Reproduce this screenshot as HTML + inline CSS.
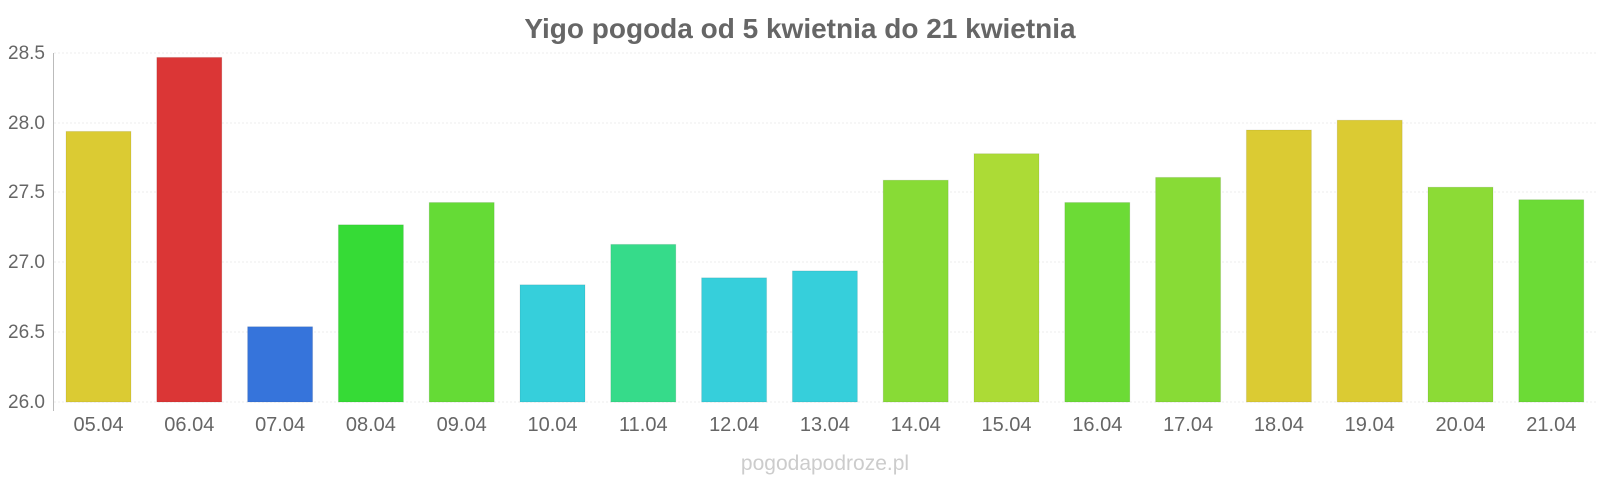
<!DOCTYPE html><html><head><style>body{margin:0;background:#fff}svg{display:block}text{font-family:"Liberation Sans",sans-serif}</style></head><body>
<svg width="1600" height="480" xmlns="http://www.w3.org/2000/svg">
<text x="800" y="38" text-anchor="middle" font-size="28" font-weight="bold" fill="#666">Yigo pogoda od 5 kwietnia do 21 kwietnia</text>
<g stroke="#eee" stroke-dasharray="2,2"><line x1="54" x2="1597" y1="53" y2="53"/><line x1="54" x2="1597" y1="123" y2="123"/><line x1="54" x2="1597" y1="192" y2="192"/><line x1="54" x2="1597" y1="262" y2="262"/><line x1="54" x2="1597" y1="332" y2="332"/><line x1="54" x2="1597" y1="402" y2="402"/></g>
<line x1="53.5" x2="53.5" y1="53" y2="411" stroke="#bbb"/>
<g font-size="19" fill="#666" text-anchor="end"><text x="45" y="59">28.5</text><text x="45" y="129">28.0</text><text x="45" y="198">27.5</text><text x="45" y="268">27.0</text><text x="45" y="338">26.5</text><text x="45" y="408">26.0</text></g>
<g stroke="rgba(0,0,0,0.08)">
<rect x="66" y="131.4" width="65" height="270.6" fill="#dbcb33"/>
<rect x="156.8" y="57.4" width="65" height="344.6" fill="#db3636"/>
<rect x="247.6" y="326.7" width="65" height="75.3" fill="#3674db"/>
<rect x="338.4" y="224.8" width="65" height="177.2" fill="#36db36"/>
<rect x="429.2" y="202.5" width="65" height="199.5" fill="#65db36"/>
<rect x="520" y="284.8" width="65" height="117.2" fill="#36cfdb"/>
<rect x="610.8" y="244.4" width="65" height="157.6" fill="#36db8a"/>
<rect x="701.6" y="277.8" width="65" height="124.2" fill="#36cfdb"/>
<rect x="792.4" y="270.9" width="65" height="131.1" fill="#36cfdb"/>
<rect x="883.2" y="180.2" width="65" height="221.8" fill="#88db36"/>
<rect x="974" y="153.7" width="65" height="248.3" fill="#acdb36"/>
<rect x="1064.8" y="202.5" width="65" height="199.5" fill="#6cdb36"/>
<rect x="1155.6" y="177.4" width="65" height="224.6" fill="#88db36"/>
<rect x="1246.4" y="130" width="65" height="272" fill="#dbcb33"/>
<rect x="1337.2" y="120.2" width="65" height="281.8" fill="#dbcb33"/>
<rect x="1428" y="187.2" width="65" height="214.8" fill="#8cdb36"/>
<rect x="1518.8" y="199.7" width="65" height="202.3" fill="#6cdb36"/>
</g>
<g font-size="20" fill="#666" text-anchor="middle">
<text x="98.5" y="431">05.04</text><text x="189.3" y="431">06.04</text><text x="280.1" y="431">07.04</text><text x="370.9" y="431">08.04</text><text x="461.7" y="431">09.04</text><text x="552.5" y="431">10.04</text><text x="643.3" y="431">11.04</text><text x="734.1" y="431">12.04</text><text x="824.9" y="431">13.04</text><text x="915.7" y="431">14.04</text><text x="1006.5" y="431">15.04</text><text x="1097.3" y="431">16.04</text><text x="1188.1" y="431">17.04</text><text x="1278.9" y="431">18.04</text><text x="1369.7" y="431">19.04</text><text x="1460.5" y="431">20.04</text><text x="1551.3" y="431">21.04</text>
</g>
<text x="825" y="470" text-anchor="middle" font-size="21" fill="#ccc">pogodapodroze.pl</text>
</svg></body></html>
